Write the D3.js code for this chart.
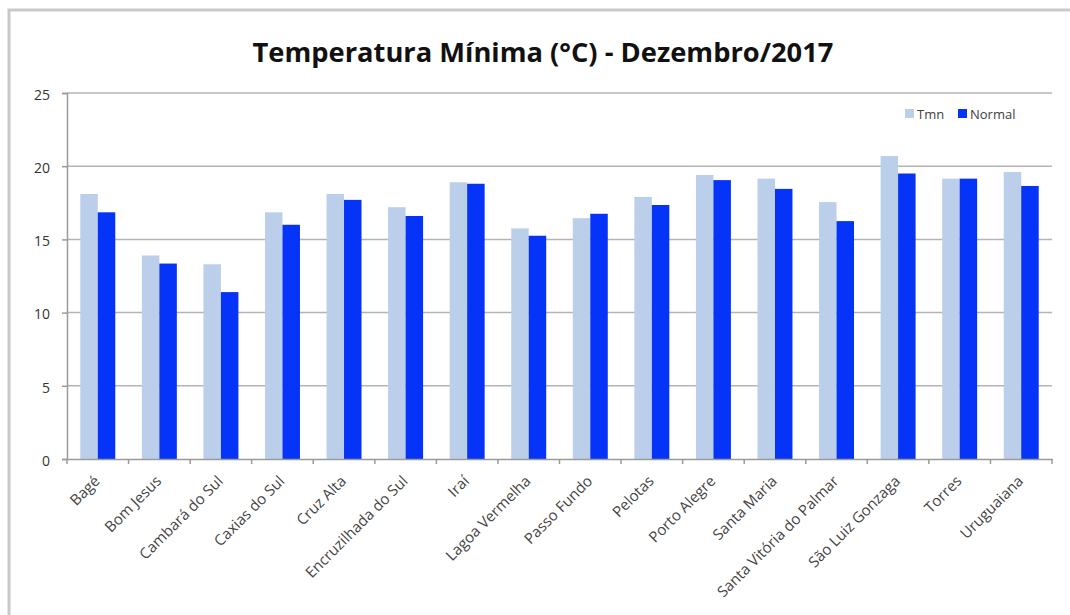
<!DOCTYPE html>
<html lang="pt">
<head>
  <meta charset="utf-8">
  <title>Temperatura Mínima (°C) - Dezembro/2017</title>
  <style>
    body { margin: 0; background: #fff; }
    svg, svg text { font-family: "Open Sans", "DejaVu Sans", sans-serif; }
    svg { display: block; }
  </style>
</head>
<body>
  <script src="https://cdnjs.cloudflare.com/ajax/libs/d3/7.8.5/d3.min.js"></script>
  <script>
  const cities = ["Bagé", "Bom Jesus", "Cambará do Sul", "Caxias do Sul", "Cruz Alta",
    "Encruzilhada do Sul", "Iraí", "Lagoa Vermelha", "Passo Fundo", "Pelotas",
    "Porto Alegre", "Santa Maria", "Santa Vitória do Palmar", "São Luiz Gonzaga",
    "Torres", "Uruguaiana"];
  const tmn = [18.1, 13.9, 13.3, 16.85, 18.1, 17.2, 18.9, 15.75, 16.45, 17.9,
    19.4, 19.15, 17.55, 20.7, 19.15, 19.6];
  const normal = [16.85, 13.35, 11.4, 16.0, 17.7, 16.6, 18.8, 15.25, 16.75, 17.35,
    19.05, 18.45, 16.25, 19.5, 19.15, 18.65];
  const seriesNames = ["Tmn", "Normal"];
  const yTicks = [0, 5, 10, 15, 20, 25];

  const colors = { Tmn: "#bccfea", Normal: "#0533f7" };

  const W = 1070, H = 615;
  const margin = { top: 93, right: 18, bottom: 156, left: 67 };
  const width = W - margin.left - margin.right;
  const height = H - margin.top - margin.bottom;

  const svg = d3.select("body").append("svg")
    .attr("width", W)
    .attr("height", H);

  // chart frame
  svg.append("rect")
    .attr("x", 9).attr("y", 10)
    .attr("width", W + 20).attr("height", H + 20)
    .attr("fill", "none")
    .attr("stroke", "#c9c9c9")
    .attr("stroke-width", 3);

  svg.append("text")
    .attr("x", 543).attr("y", 62)
    .attr("text-anchor", "middle")
    .attr("font-size", 27.3)
    .attr("font-weight", "bold")
    .attr("fill", "#111")
    .text("Temperatura Mínima (°C) - Dezembro/2017");

  const g = svg.append("g")
    .attr("transform", `translate(${margin.left},${margin.top})`);

  const x0 = d3.scaleBand().domain(cities).range([0, width]).padding(0);
  const x1 = d3.scaleBand().domain(seriesNames).range([0, x0.bandwidth()])
    .paddingInner(0).paddingOuter(0.76);
  const y = d3.scaleLinear().domain([0, 25]).range([height, 0]);

  // grid
  g.append("g")
    .selectAll("line")
    .data(yTicks.filter(d => d > 0))
    .join("line")
    .attr("x1", 0).attr("x2", width)
    .attr("y1", d => y(d)).attr("y2", d => y(d))
    .attr("stroke", "#b4b4b4")
    .attr("stroke-width", 1.5);

  // bars
  const rows = cities.map((c, i) => ({ city: c, Tmn: tmn[i], Normal: normal[i] }));
  g.append("g")
    .selectAll("g")
    .data(rows)
    .join("g")
    .attr("transform", d => `translate(${x0(d.city)},0)`)
    .selectAll("rect")
    .data(d => seriesNames.map(s => ({ key: s, value: d[s] })))
    .join("rect")
    .attr("x", d => x1(d.key))
    .attr("width", x1.bandwidth())
    .attr("y", d => y(d.value))
    .attr("height", d => y(0) - y(d.value))
    .attr("fill", d => colors[d.key]);

  // y axis
  const yAxis = g.append("g")
    .call(d3.axisLeft(y).tickValues(yTicks).tickSize(5).tickPadding(12))
    .attr("font-family", null);
  yAxis.selectAll("path, line").attr("stroke", "#9a9a9a").attr("stroke-width", 1.5);
  yAxis.selectAll("text").attr("font-size", 14).attr("fill", "#333").attr("dy", "0.45em");

  // x axis
  const xAxis = g.append("g")
    .attr("transform", `translate(0,${height})`)
    .call(d3.axisBottom(x0).tickSize(0).tickPadding(0))
    .attr("font-family", null);
  xAxis.select(".domain").attr("stroke", "#9a9a9a").attr("stroke-width", 1.5);
  xAxis.append("g")
    .selectAll("line")
    .data(cities.map(c => x0(c)).concat([width]))
    .join("line")
    .attr("x1", d => d).attr("x2", d => d)
    .attr("y1", 0).attr("y2", 5)
    .attr("stroke", "#9a9a9a")
    .attr("stroke-width", 1.5);
  xAxis.selectAll(".tick text")
    .attr("font-size", 15)
    .attr("fill", "#444")
    .attr("text-anchor", "end")
    .attr("dy", 0)
    .attr("transform", "translate(3,23) rotate(-45)");

  // legend
  const legend = svg.append("g").attr("transform", "translate(905,114)");
  const items = legend.selectAll("g")
    .data(seriesNames)
    .join("g")
    .attr("transform", (d, i) => `translate(${i * 53},0)`);
  items.append("rect")
    .attr("x", 0).attr("y", -5)
    .attr("width", 9).attr("height", 9)
    .attr("fill", d => colors[d]);
  items.append("text")
    .attr("x", 12).attr("y", 4.5)
    .attr("font-size", 13)
    .attr("fill", "#404040")
    .text(d => d);
  </script>
</body>
</html>
